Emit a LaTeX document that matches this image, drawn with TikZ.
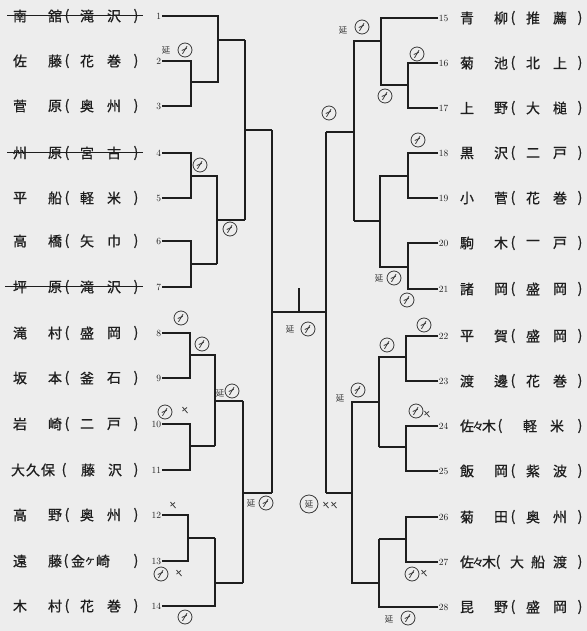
\documentclass[tikz,border=0pt]{standalone}
\usepackage{fontspec}
\newfontfamily\jp[FakeBold=0.8]{Noto Sans CJK JP}
\newfontfamily\jph{Noto Sans CJK JP}
\definecolor{ink}{HTML}{1E1E1E}
\definecolor{paper}{HTML}{EDEDED}
\definecolor{pen}{HTML}{3A3A3A}
\newcommand{\LN}[6]{%
  \node[ch] (#1a) at (20,#2) {#3};
  \node[ch] (#1b) at (55,#2) {#4};
  \node[ch] (#1o) at (67,#2) {(};
  \node[ch] (#1p) at (87,#2) {#5};
  \node[ch] (#1q) at (114,#2) {#6};
  \node[ch] (#1c) at (136,#2) {)};}
\newcommand{\RN}[6]{%
  \node[ch] (#1a) at (467,#2) {#3};
  \node[ch] (#1b) at (501,#2) {#4};
  \node[ch] (#1o) at (513,#2) {(};
  \node[ch] (#1p) at (533,#2) {#5};
  \node[ch] (#1q) at (560,#2) {#6};
  \node[ch] (#1c) at (580,#2) {)};}
\tikzset{
  ln/.style={line width=1.1bp, draw=ink},
  md/.style={line width=1.8bp, draw=ink},
  tk/.style={line width=2.9bp, draw=ink},
  ch/.style={font=\jp\fontsize{14}{14}\selectfont, text=ink, inner sep=0pt, anchor=center},
  num/.style={font=\fontsize{9.5}{9.5}\selectfont, text=ink, inner sep=0.6bp},
  hand/.style={line width=0.8bp, draw=pen},
  handtxt/.style={font=\jph\fontsize{8.5}{8.5}\selectfont, text=pen, inner sep=0pt},
  strike/.style={line width=0.9bp, draw=ink},
  mk/.pic={\draw[hand] (0,0) circle (7);
           \draw[hand] (-2.5,3.8) -- (2,-3.8);
           \draw[hand] (-3.2,0.5) -- (1.8,-1.8);},
  xx/.pic={\draw[hand] (-2.5,-3) -- (2.5,3); \draw[hand] (-2.5,1) -- (2,-2.5);}
}
\begin{document}
\begin{tikzpicture}[x=1bp,y=-1bp]
\fill[paper] (0,0) rectangle (587,631);
\useasboundingbox (0,0) rectangle (587,631);

% ---------------- left names ----------------
\LN{L1}{16}{南}{舘}{滝}{沢}
\LN{L2}{61}{佐}{藤}{花}{巻}
\LN{L3}{106}{菅}{原}{奥}{州}
\LN{L4}{153}{州}{原}{宮}{古}
\LN{L5}{198}{平}{船}{軽}{米}
\LN{L6}{241}{高}{橋}{矢}{巾}
\LN{L7}{287}{坪}{原}{滝}{沢}
\LN{L8}{333}{滝}{村}{盛}{岡}
\LN{L9}{378}{坂}{本}{釜}{石}
\LN{L10}{424}{岩}{崎}{二}{戸}
% 大久保
\node[ch] (L11a) at (18,470) {大};
\node[ch] (L11b) at (33,470) {久};
\node[ch] (L11x) at (48,470) {保};
\node[ch] (L11o) at (64,470) {(};
\node[ch] (L11p) at (88,470) {藤};
\node[ch] (L11q) at (115,470) {沢};
\node[ch] (L11c) at (136,470) {)};
\LN{L12}{515}{高}{野}{奥}{州}
% 遠藤(金ヶ崎)
\node[ch] (L13a) at (20,561) {遠};
\node[ch] (L13b) at (55,561) {藤};
\node[ch] (L13o) at (66,561) {(};
\node[ch] (L13p) at (78,561) {金};
\node[ch, font=\jp\fontsize{11}{11}\selectfont] (L13x) at (90,561) {ヶ};
\node[ch] (L13q) at (103,561) {崎};
\node[ch] (L13c) at (136,561) {)};
\LN{L14}{606}{木}{村}{花}{巻}

% strike-through
\draw[strike] (7,15) -- (143,15);
\draw[strike] (7,152) -- (143,152);
\draw[strike] (5,286) -- (143,286);

% ---------------- right names ----------------
\RN{R15}{18}{青}{柳}{推}{薦}
\RN{R16}{63}{菊}{池}{北}{上}
\RN{R17}{108}{上}{野}{大}{槌}
\RN{R18}{153}{黒}{沢}{二}{戸}
\RN{R19}{198}{小}{菅}{花}{巻}
\RN{R20}{243}{駒}{木}{一}{戸}
\RN{R21}{289}{諸}{岡}{盛}{岡}
\RN{R22}{336}{平}{賀}{盛}{岡}
\RN{R23}{381}{渡}{邊}{花}{巻}
% 佐々木(軽米)
\node[ch] (R24a) at (467,426) {佐};
\node[ch, font=\jp\fontsize{11}{11}\selectfont] (R24x) at (478,426) {々};
\node[ch] (R24b) at (489,426) {木};
\node[ch] (R24o) at (500,426) {(};
\node[ch] (R24p) at (530,426) {軽};
\node[ch] (R24q) at (557,426) {米};
\node[ch] (R24c) at (580,426) {)};
\RN{R25}{471}{飯}{岡}{紫}{波}
\RN{R26}{517}{菊}{田}{奥}{州}
% 佐々木(大船渡)
\node[ch] (R27a) at (467,562) {佐};
\node[ch, font=\jp\fontsize{11}{11}\selectfont] (R27x) at (478,562) {々};
\node[ch] (R27b) at (489,562) {木};
\node[ch] (R27o) at (498,562) {(};
\node[ch] (R27p) at (517,562) {大};
\node[ch] (R27y) at (538,562) {船};
\node[ch] (R27q) at (560,562) {渡};
\node[ch] (R27c) at (580,562) {)};
\RN{R28}{607}{昆}{野}{盛}{岡}

% ---------------- numbers ----------------
\foreach \i/\y in {1/16,2/61,3/106,4/153,5/198,6/241,7/287,8/333,9/378,10/424,11/470,12/515,13/561,14/606}
  \node[num, anchor=east] (n\i) at (162,\y) {\i};
\foreach \i/\y in {15/18,16/63,17/108,18/153,19/198,20/243,21/289,22/336,23/381,24/426,25/471,26/517,27/562,28/607}
  \node[num, anchor=west] (n\i) at (438,\y) {\i};

% ---------------- left bracket ----------------
\draw[ln] (n1.east) -| (218,40);
\draw[tk] (n2.east) -| (191,82) -- (218,82) -- (218,40) -- (245,40);
\draw[ln] (n3.east) -| (191,82);
\draw[ln] (245,40) -- (245,130);
\draw[ln] (n4.east) -| (191,176);
\draw[tk] (n5.east) -| (191,176) -- (217,176) -- (217,220);
\draw[md] (217,220) -- (245,220);
\draw[tk] (245,220) -- (245,130) -- (272,130);
\draw[ln] (n6.east) -| (191,264);
\draw[ln] (n7.east) -| (191,264);
\draw[md] (191,264) -- (217,264);
\draw[ln] (217,264) -- (217,220);
\draw[ln] (272,130) -- (272,493);

\draw[tk] (n8.east) -| (190,355) -- (215,355) -- (215,401);
\draw[ln] (n9.east) -| (190,355);
\draw[tk] (n10.east) -| (190,446) -- (215,446);
\draw[ln] (n11.east) -| (190,446);
\draw[ln] (215,446) -- (215,401) -- (243,401);
\draw[tk] (243,401) -- (243,493);
\draw[md] (243,493) -- (243,583);
\draw[ln] (243,493) -- (272,493);
\draw[ln] (n12.east) -| (188,538);
\draw[tk] (n13.east) -| (188,538) -- (215,538);
\draw[ln] (215,538) -- (215,583);
\draw[md] (n14.east) -| (215,583);
\draw[tk] (215,583) -- (243,583);

% ---------------- centre ----------------
\coordinate (top) at (299,288);
\draw[md] (272,312) -- (326,312);
\draw[md] (299,312) -- (top);

% ---------------- right bracket ----------------
\draw[ln] (n15.west) -| (381,41);
\draw[tk] (n16.west) -| (408,85) -- (381,85) -- (381,41) -- (354,41) -- (354,132) -- (326,132);
\draw[ln] (n17.west) -| (408,85);
\draw[tk] (n18.west) -| (408,176) -- (380,176) -- (380,221) -- (354,221);
\draw[ln] (n19.west) -| (408,176);
\draw[ln] (n20.west) -| (408,267);
\draw[tk] (n21.west) -| (408,267) -- (380,267) -- (380,221);
\draw[ln] (354,132) -- (354,221);
\draw[ln] (326,132) -- (326,312);
\draw[tk] (326,312) -- (326,493);

\draw[tk] (n22.west) -| (406,357) -- (379,357) -- (379,402) -- (352,402) -- (352,493) -- (326,493);
\draw[ln] (n23.west) -| (406,357);
\draw[tk] (n24.west) -| (406,447) -- (379,447);
\draw[ln] (n25.west) -| (406,447);
\draw[ln] (379,447) -- (379,402);
\draw[ln] (n26.west) -| (406,539);
\draw[tk] (n27.west) -| (406,539) -- (379,539);
\draw[md] (379,539) -- (379,583);
\draw[tk] (n28.west) -| (379,583);
\draw[md] (379,583) -- (352,583) -- (352,493);

% ---------------- handwritten marks ----------------
\node[handtxt] (h1) at (166,50) {延};
\pic at (185,50) {mk};
\pic at (200,165) {mk};
\pic at (230,229) {mk};
\pic at (181,318) {mk};
\pic at (202,344) {mk};
\node[handtxt] (h2) at (220,393) {延};
\pic at (232,391) {mk};
\pic at (165,412) {mk};
\pic at (185,410) {xx};
\pic at (173,505) {xx};
\pic at (161,574) {mk};
\pic at (179,573) {xx};
\pic at (185,617) {mk};
\node[handtxt] (h3) at (251,503) {延};
\pic at (266,503) {mk};
\node[handtxt] (h4) at (290,329) {延};
\pic at (308,329) {mk};

\node[handtxt] (h5) at (343,30) {延};
\pic at (362,27) {mk};
\pic at (329,113) {mk};
\pic at (417,54) {mk};
\pic at (385,96) {mk};
\pic at (418,140) {mk};
\node[handtxt] (h6) at (379,278) {延};
\pic at (394,278) {mk};
\pic at (407,300) {mk};
\pic at (424,325) {mk};
\pic at (387,345) {mk};
\node[handtxt] (h7) at (340,398) {延};
\pic at (358,390) {mk};
\pic at (416,411) {mk};
\pic at (427,414) {xx};
\draw[hand] (309,504) circle (9);
\node[handtxt] (h8) at (309,504) {延};
\pic at (326,505) {xx};
\pic at (334,505) {xx};
\pic at (412,574) {mk};
\pic at (424,573) {xx};
\node[handtxt] (h9) at (389,619) {延};
\pic at (408,618) {mk};
\end{tikzpicture}
\end{document}
